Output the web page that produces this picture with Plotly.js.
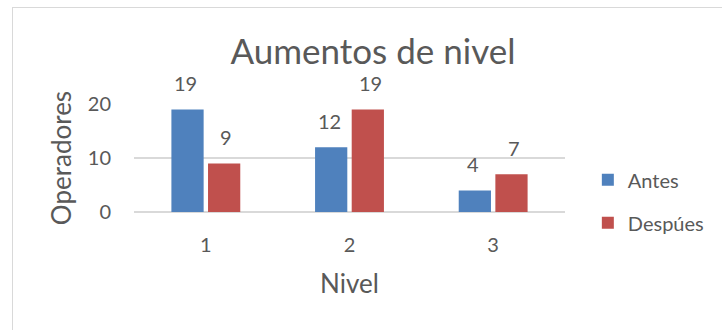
<!DOCTYPE html>
<html><head><meta charset="utf-8">
<script src="https://cdn.plot.ly/plotly-3.0.1.min.js"></script>
<style>
html,body{margin:0;padding:0;background:#fff;overflow:hidden;}
#wrap{position:relative;width:722px;height:330px;}
#frame{position:absolute;left:12px;top:7px;width:800px;height:400px;border:1px solid #d9d9d9;box-sizing:border-box;}
#chart{position:absolute;left:0;top:0;width:722px;height:330px;}
</style></head>
<body>
<div id="wrap"><div id="frame"></div><div id="chart"></div></div>
<script>
const categories = ['1', '2', '3'];
const antes = [19, 12, 4];
const despues = [9, 19, 7];
const seriesNames = ['Antes', 'Despúes'];
const yTicks = [0, 10, 20];

const FONT = 'Lato, "Open Sans", sans-serif';
const TXT = '#595959';
const colors = ['#4f81bd', '#c0504d'];
const seriesVals = [antes, despues];

const traces = seriesVals.map((vals, i) => ({
  type: 'bar', x: categories, y: vals, name: seriesNames[i],
  legendgroup: 'g' + i,
  marker: {color: colors[i]}, hoverinfo: 'skip'
}));

const offsets = [-20.5, 20.5];
const annotations = [];
seriesVals.forEach((vals, i) => {
  vals.forEach((v, j) => {
    annotations.push({
      x: j, y: v, xref: 'x', yref: 'y', text: String(v),
      showarrow: false, xshift: offsets[i], yshift: 26, yanchor: 'middle',
      font: {family: FONT, size: 20, color: TXT}
    });
  });
});

const layout = {
  width: 722, height: 330,
  paper_bgcolor: 'rgba(0,0,0,0)', plot_bgcolor: 'rgba(0,0,0,0)',
  margin: {l: 134, r: 157, t: 104, b: 118, pad: 0, autoexpand: false},
  font: {family: FONT, color: TXT, size: 20},
  title: {text: 'Aumentos de nivel', x: 373/722, xanchor: 'center', xref: 'container',
          y: 1 - 52/330, yanchor: 'middle', yref: 'container',
          font: {family: FONT, size: 35, color: TXT}},
  barmode: 'group', bargap: 0.49, bargroupgap: 0.12,
  xaxis: {type: 'category', range: [-0.5, 2.5], autorange: false,
          showgrid: false, showline: false, zeroline: false,
          ticks: '', ticklabelstandoff: 19, tickfont: {size: 20, color: TXT},
          title: {text: 'Nivel', font: {size: 26, color: TXT}, standoff: 19}},
  yaxis: {range: [0, 20], autorange: false, tickvals: yTicks, showgrid: true, gridcolor: '#d9d9d9', gridwidth: 1.3,
          zeroline: true, zerolinecolor: '#d9d9d9', zerolinewidth: 1.3, showline: false,
          ticks: '', ticklabelstandoff: 22, tickfont: {size: 20, color: TXT},
          title: {text: 'Operadores', font: {size: 26, color: TXT}, standoff: 8}},
  showlegend: true,
  legend: {x: 1.053, xanchor: 'left', y: 0.1, yanchor: 'middle', traceorder: 'grouped',
           tracegroupgap: 14, font: {size: 20, color: TXT}, bgcolor: 'rgba(0,0,0,0)'},
  annotations: annotations
};

Plotly.newPlot('chart', traces, layout, {displayModeBar: false, staticPlot: true});
</script>
</body></html>
